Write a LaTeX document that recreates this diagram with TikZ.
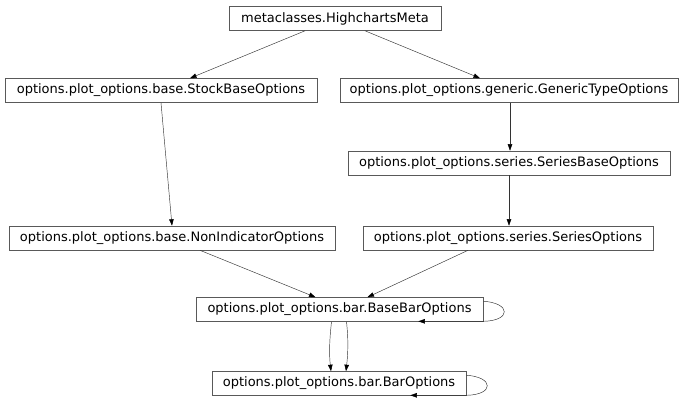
\documentclass[tikz,border=0pt]{standalone}
\usepackage{fontspec}
\setmainfont{DejaVu Sans}
\usetikzlibrary{arrows.meta}
\begin{document}
\begin{tikzpicture}[x=1pt,y=-1pt,
  cls/.style={draw=black!65,line width=0.6pt,fill=white,inner xsep=0pt,inner ysep=0pt,
    minimum height=24pt,font=\fontsize{13}{15}\selectfont},
  edge/.style={draw=black!80,line width=0.45pt,-{Triangle[length=6.5pt,width=4.5pt,color=black]}}]
\useasboundingbox (0,0) rectangle (685,404);
\node[cls,minimum width=212pt] (meta) at (335,18.5) {metaclasses.HighchartsMeta};
\node[cls,minimum width=312pt] (stock) at (161,90.5) {options.plot\_options.base.StockBaseOptions};
\node[cls,minimum width=338pt] (generic) at (509,90.5) {options.plot\_options.generic.GenericTypeOptions};
\node[cls,minimum width=322pt] (sbase) at (509,163) {options.plot\_options.series.SeriesBaseOptions};
\node[cls,minimum width=326pt] (nonind) at (172,238) {options.plot\_options.base.NonIndicatorOptions};
\node[cls,minimum width=290pt] (sopt) at (508,238) {options.plot\_options.series.SeriesOptions};
\node[cls,minimum width=287pt] (basebar) at (339.5,309.5) {options.plot\_options.bar.BaseBarOptions};
\node[cls,minimum width=254pt] (bar) at (339,383.5) {options.plot\_options.bar.BarOptions};

\draw[edge] ([xshift=-30pt]meta.south) -- ([xshift=29pt]stock.north);
\draw[edge] ([xshift=30pt]meta.south) -- ([xshift=-29pt]generic.north);
\draw[edge] ([xshift=1pt]generic.south) -- ([xshift=1pt]sbase.north);
\draw[edge] (stock.south) -- (nonind.north);
\draw[edge] (sbase.south) -- ([xshift=1pt]sopt.north);
\draw[edge] ([xshift=28pt]nonind.south) -- ([xshift=-24pt]basebar.north);
\draw[edge] ([xshift=-40pt]sopt.south) -- ([xshift=28pt]basebar.north);
\draw[edge] ([xshift=-8pt]basebar.south) .. controls ([xshift=-10pt,yshift=-18pt]basebar.south) and ([xshift=-10pt,yshift=18pt]bar.north) .. ([xshift=-8pt]bar.north);
\draw[edge] ([xshift=7pt]basebar.south) .. controls ([xshift=9pt,yshift=-18pt]basebar.south) and ([xshift=9pt,yshift=18pt]bar.north) .. ([xshift=7pt]bar.north);
\draw[edge] ([yshift=-4pt]basebar.north east) .. controls ([xshift=28pt,yshift=-6pt]basebar.north east) and ([xshift=28pt,yshift=1pt]basebar.south east) .. ([yshift=0.5pt]basebar.south east) -- ([xshift=-65pt,yshift=0.5pt]basebar.south east);
\draw[edge] ([yshift=-4pt]bar.north east) .. controls ([xshift=28pt,yshift=-6pt]bar.north east) and ([xshift=28pt,yshift=1pt]bar.south east) .. ([yshift=0.5pt]bar.south east) -- ([xshift=-56pt,yshift=0.5pt]bar.south east);
\end{tikzpicture}
\end{document}
